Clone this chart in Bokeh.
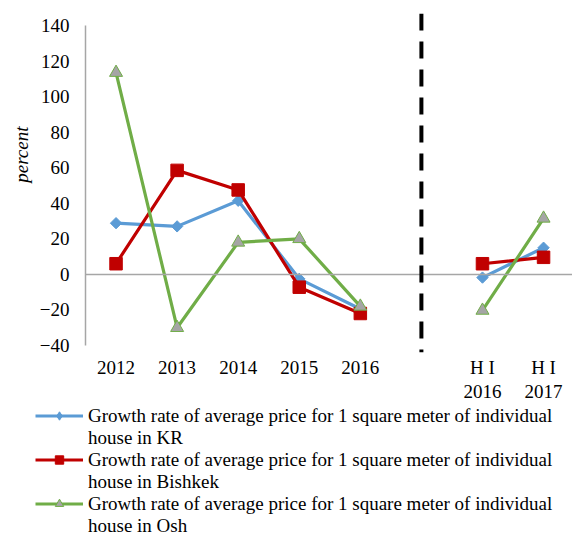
import math
import numpy as np
from bokeh.plotting import figure
from bokeh.layouts import column, row
from bokeh.models import (FixedTicker, Span, Legend, LegendItem, Range1d, Title,
                          ColumnDataSource, CDSView, IndexFilter)
from bokeh.embed import file_html
from bokeh.resources import INLINE

# ---- data ----
categories = ["2012", "2013", "2014", "2015", "2016", "", "H I\n2016", "H I\n2017"]
kr_growth = [28.8, 27.0, 41.4, -2.5, -19.5, np.nan, -1.8, 15.0]
bishkek_growth = [6.0, 58.5, 47.5, -7.2, -22.0, np.nan, 6.0, 9.6]
osh_growth = [113.5, -30.0, 18.0, 20.0, -18.0, np.nan, -20.3, 31.5]
series_names = [
    "Growth rate of average price for 1 square meter of individual",
    "Growth rate of average price for 1 square meter of individual",
    "Growth rate of average price for 1 square meter of individual",
]
series_places = ["house in KR", "house in Bishkek", "house in Osh"]
y_ticks = [-40, -20, 0, 20, 40, 60, 80, 100, 120, 140]
y_min, y_max = -40, 140
y_label = "percent"
separator_category = 5

x = list(range(len(categories)))

FONT = "Liberation Serif"
FS = "19px"
AXIS_GRAY = "#A6A6A6"
blue, red, green, tri_fill = "#5B9BD5", "#C00000", "#70AD47", "#A5A5A5"

p = figure(
    frame_width=487, frame_height=339,
    min_border_left=85, min_border_right=0, min_border_top=13, min_border_bottom=52,
    x_range=Range1d(-0.5, 7.474), y_range=Range1d(-43.94, 146.75),
    output_backend="svg", toolbar_location=None,
)
p.outline_line_color = None
p.xgrid.visible = False
p.ygrid.visible = False
p.background_fill_color = "white"

# y axis
p.yaxis.ticker = FixedTicker(ticks=y_ticks)
p.yaxis.bounds = (y_min, y_max)
p.yaxis.axis_line_color = AXIS_GRAY
p.yaxis.axis_line_width = 1.5
p.yaxis.major_tick_out = 0
p.yaxis.major_tick_in = 0
p.yaxis.minor_tick_out = 0
p.yaxis.minor_tick_in = 0
p.yaxis.major_label_standoff = 16
p.yaxis.major_label_text_font = FONT
p.yaxis.major_label_text_font_size = FS
p.yaxis.major_label_text_color = "black"

# x axis
p.xaxis.ticker = FixedTicker(ticks=[i for i, c in enumerate(categories) if c])
p.xaxis.major_label_overrides = {i: c for i, c in enumerate(categories) if c}
p.xaxis.axis_line_color = None
p.xaxis.major_tick_out = 0
p.xaxis.major_tick_in = 0
p.xaxis.minor_tick_out = 0
p.xaxis.minor_tick_in = 0
p.xaxis.major_label_standoff = 4
p.xaxis.major_label_text_font = FONT
p.xaxis.major_label_text_font_size = FS
p.xaxis.major_label_text_line_height = 1.15
p.xaxis.major_label_text_color = "black"

p.add_layout(Span(location=0, dimension="width", line_color=AXIS_GRAY, line_width=1.5))

# separator
p.add_layout(Span(location=separator_category, dimension="height", line_color="black",
                  line_width=4, line_dash="17 11"))

# series
l1 = p.line(x, kr_growth, line_color=blue, line_width=3.2)
m1 = p.scatter(x, kr_growth, marker="square", angle=math.pi / 4, size=8,
               fill_color=blue, line_color=blue)
l2 = p.line(x, bishkek_growth, line_color=red, line_width=3.2)
m2 = p.scatter(x, bishkek_growth, marker="square", size=12.5,
               fill_color=red, line_color=red)
l3 = p.line(x, osh_growth, line_color=green, line_width=3.2)
m3 = p.scatter(x, osh_growth, marker="triangle", size=13,
               fill_color=tri_fill, line_color=green, line_width=1)

# y label
p.add_layout(Title(text=y_label, align="right", offset=113, text_font=FONT,
                   text_font_size=FS, text_font_style="italic", text_color="black"), "left")

# ---- legend panel ----
lg = figure(width=572, height=130, x_range=Range1d(0, 1), y_range=Range1d(0, 1),
            x_axis_type=None, y_axis_type=None, min_border=0,
            min_border_left=0, min_border_right=0, min_border_top=0, min_border_bottom=0,
            output_backend="svg", toolbar_location=None)
lg.outline_line_color = None
lg.xgrid.visible = False
lg.ygrid.visible = False

styles = [
    dict(color=blue, marker="diamond", fill=blue, size=8, vals=kr_growth),
    dict(color=red, marker="square", fill=red, size=12.5, vals=bishkek_growth),
    dict(color=green, marker="triangle", fill=tri_fill, size=13, vals=osh_growth),
]
# legend-only renderers: one point each, lying outside this panel's visible range
first_only = CDSView(filter=IndexFilter([0]))
items = []
for st, name, place in zip(styles, series_names, series_places):
    src = ColumnDataSource(dict(x=x, y=st["vals"]))
    lr = lg.line("x", "y", source=src, view=first_only, line_color=st["color"], line_width=3.2)
    mr = lg.scatter("x", "y", source=src, view=first_only, marker=st["marker"],
                    size=st["size"], fill_color=st["fill"],
                    line_color=st["color"], line_width=1)
    dummy = lg.line("x", "y", source=src, view=first_only, line_alpha=0)
    items.append(LegendItem(label=name, renderers=[lr, mr]))
    items.append(LegendItem(label=place, renderers=[dummy]))

legend = Legend(items=items, location=(35, -2.5), spacing=-5, padding=0, margin=0,
                glyph_width=48, glyph_height=21, label_height=21, label_standoff=5,
                label_text_font=FONT, label_text_font_size="19px", label_text_color="black",
                border_line_color=None, background_fill_alpha=0)
lg.add_layout(legend)

layout = column(p, row(lg), spacing=0)
open("out.html", "w").write(file_html(layout, INLINE))
